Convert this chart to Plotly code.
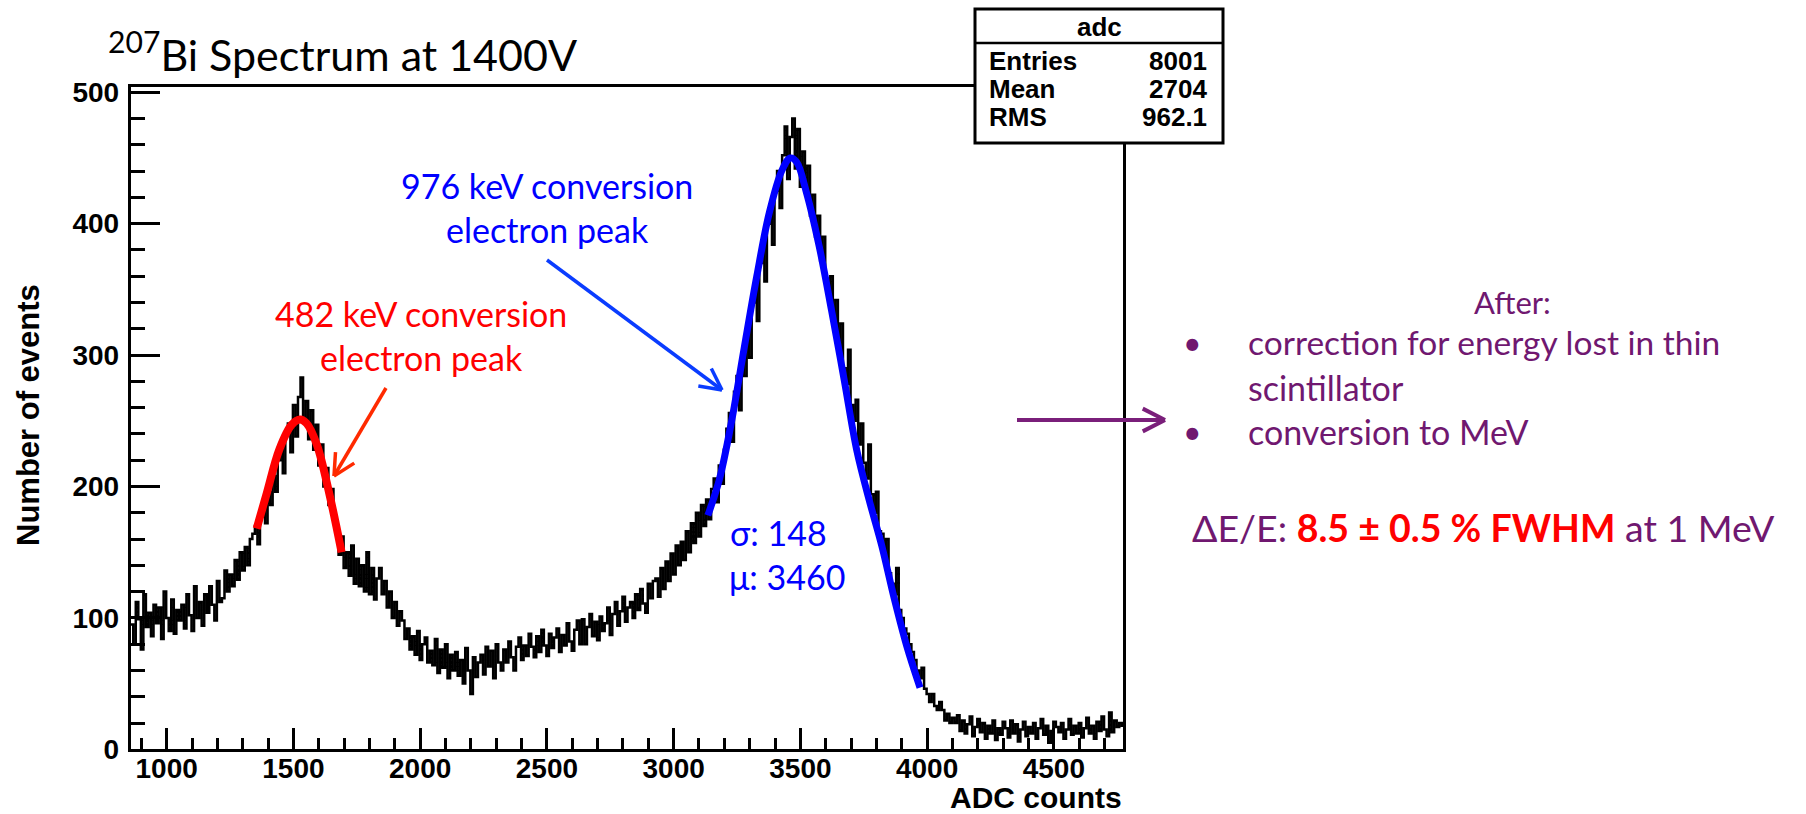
import math
import plotly.graph_objects as go

W, H = 1806, 814

# ---- histogram: ADC spectrum, 10-count bins starting at 858 ----
x_lo, x_hi = 858, 4774
bin_width = 10
counts = [
    95, 80, 112, 99, 76, 118, 93, 104, 86, 110,
    96, 108, 84, 120, 100, 90, 114, 88, 106, 98,
    110, 92, 118, 102, 90, 124, 100, 112, 94, 118,
    104, 124, 110, 98, 128, 112, 115, 136, 120,
    133, 124, 144, 129, 150, 136, 154, 140, 160, 164,
    170, 156, 178, 186, 172, 196, 186, 208, 196, 220,
    228, 210, 242, 248, 226, 262, 238, 268, 283, 250,
    265, 236, 258, 228, 247, 216, 232, 200, 214, 186,
    198, 172, 170, 148, 162, 138, 150, 132, 155, 126,
    145, 124, 140, 120, 150, 118, 138, 114, 130, 138,
    118, 128, 108, 120, 100, 112, 94, 105, 98,
    84, 92, 76, 86, 72, 90, 68, 80, 85, 66,
    75, 64, 84, 58, 76, 62, 80, 54, 72, 60,
    74, 56, 68, 50, 77, 60, 42, 70, 55, 66,
    72, 57, 78, 63, 75, 54, 80, 66, 60, 76,
    66, 82, 70, 60, 78, 85, 68, 79, 71, 88,
    78, 70, 86, 74, 91, 79, 71, 88, 77, 85,
    92, 74, 87, 79, 96, 82, 75, 91, 98, 80,
    99, 80, 93, 103, 86, 97, 83, 101, 90,
    96, 108, 87, 103, 112, 94, 105, 116, 97, 108,
    112, 100, 118, 106, 122, 111, 104, 126, 115, 128,
    130, 116, 138, 122, 143, 128, 149, 133, 155, 140,
    158, 144, 166, 150, 172, 157, 180, 162, 186, 170,
    190, 175, 198, 206, 188, 216, 202, 228, 244,
    256, 234, 272, 284, 258, 300, 284, 320, 298, 340,
    352, 326, 370, 382, 356, 400, 410, 384, 425, 440,
    412, 452, 474, 434, 466, 480, 442, 472, 428, 455,
    424, 444, 406, 422, 390, 406, 372, 390, 354, 345,
    360, 326, 342, 306, 324, 290, 278, 304, 262, 250,
    266, 232, 248, 218, 206, 232, 194, 180, 196, 166,
    164, 146, 160, 134, 126, 118, 138, 106, 100, 92,
    88, 80, 74, 68, 60, 54, 62, 46, 42, 36,
    42, 33, 30, 36, 30, 22, 27, 20, 24,
    20, 26, 14, 22, 12, 19, 25, 10, 17, 23,
    13, 20, 8, 18, 12, 22, 7, 16, 11, 21,
    16, 9, 22, 12, 19, 6, 15, 21, 10, 17,
    12, 20, 8, 16, 23, 11, 18, 5, 14, 21,
    17, 13, 20, 8, 15, 23, 11, 18, 12,
    20, 9, 16, 24, 12, 18, 8, 21, 14, 25,
    15, 10, 28, 13, 22, 17, 20, 18,
]

# ---- fitted peak curves ----
fit_482_adc = [1355, 1395, 1444, 1493, 1526, 1552, 1592, 1641, 1690]
fit_482_val = [168, 195, 228, 247, 251, 248, 232, 195, 150]

fit_976_adc = [3135, 3180, 3229, 3278, 3328, 3377, 3426, 3460, 3485, 3525,
               3574, 3623, 3673, 3722, 3771, 3821, 3870, 3919, 3972]
fit_976_val = [178, 205, 250, 305, 360, 408, 440, 450, 447, 423,
               383, 334, 281, 228, 190, 155, 115, 79, 47]

# ---- statistics box ----
stats_name = "adc"
stats_labels = ["Entries", "Mean", "RMS"]
stats_values = ["8001", "2704", "962.1"]

# ---- layout helpers (pixel -> paper) ----
def px(x):
    return x / W

def py(y):
    return 1 - y / H

PLOT_L, PLOT_R, PLOT_T, PLOT_B = 130.7, 1123.3, 87.0, 749.3

edges = [x_lo + bin_width * i for i in range(len(counts) + 1)]
step_y = counts + [counts[-1]]

fig = go.Figure()
fig.add_trace(go.Scatter(
    x=edges, y=step_y, mode="lines", line_shape="hv",
    line=dict(color="black", width=2.5), hoverinfo="skip", showlegend=False,
))
fig.add_trace(go.Scatter(
    x=fit_482_adc, y=fit_482_val, mode="lines", line_shape="spline",
    line=dict(color="#ff0000", width=8), showlegend=False,
))
fig.add_trace(go.Scatter(
    x=fit_976_adc, y=fit_976_val, mode="lines", line_shape="spline",
    line=dict(color="#0000ff", width=7), showlegend=False,
))

tick_font = dict(family="Liberation Sans, Arial, sans-serif", size=28,
                 color="black", weight="bold")

fig.update_xaxes(
    domain=[px(PLOT_L), px(PLOT_R)], range=[x_lo, x_hi], automargin=False,
    tick0=1000, dtick=500, ticks="inside", ticklen=21, tickwidth=3,
    tickcolor="black", showline=True, linewidth=3, linecolor="black",
    mirror=True, showgrid=False, zeroline=False, tickfont=tick_font,
    ticklabelstandoff=-8,
    minor=dict(tick0=1000, dtick=100, ticks="inside", ticklen=11,
               tickwidth=3, tickcolor="black", showgrid=False),
)
fig.update_yaxes(
    domain=[py(PLOT_B), py(PLOT_T)], range=[0, 504], automargin=False,
    tick0=0, dtick=100, ticks="inside", ticklen=29, tickwidth=3,
    tickcolor="black", showline=True, linewidth=3, linecolor="black",
    mirror=True, showgrid=False, zeroline=False, tickfont=tick_font,
    ticklabelstandoff=3,
    minor=dict(tick0=0, dtick=20, ticks="inside", ticklen=14,
               tickwidth=3, tickcolor="black", showgrid=False),
)

shapes = []
annotations = []

def text(x, y, s, size, color, xanchor="center", yanchor="middle",
         family="Lato, sans-serif", weight="normal", angle=0):
    annotations.append(dict(
        x=px(x), y=py(y), xref="paper", yref="paper", text=s,
        showarrow=False, xanchor=xanchor, yanchor=yanchor, textangle=angle,
        font=dict(family=family, size=size, color=color, weight=weight),
    ))

def seg(x0, y0, x1, y1, color, width):
    shapes.append(dict(type="line", xref="paper", yref="paper",
                       x0=px(x0), y0=py(y0), x1=px(x1), y1=py(y1),
                       line=dict(color=color, width=width)))

def open_arrow(x0, y0, x1, y1, color, width, head=24, spread=27):
    seg(x0, y0, x1, y1, color, width)
    ang = math.atan2(y1 - y0, x1 - x0)
    for s in (-1, 1):
        a = ang + math.pi + s * math.radians(spread)
        seg(x1, y1, x1 + head * math.cos(a), y1 + head * math.sin(a), color, width)

# title
text(106, 52, "<sup>207</sup>Bi Spectrum at 1400V", 43, "black", xanchor="left")

# axis titles
axis_font = "Liberation Sans, Arial, sans-serif"
text(1124, 797, "ADC counts", 30, "black", xanchor="right",
     family=axis_font, weight="bold")
text(28, 415, "Number of events", 31, "black", family=axis_font,
     weight="bold", angle=-90)

# peak labels
red = "#ff0000"
blue = "#0000ff"
text(421, 313, "482 keV conversion", 34, red)
text(421, 357, "electron peak", 34, red)
text(547, 186, "976 keV conversion", 34, blue)
text(547, 229, "electron peak", 34, blue)
text(778, 532, "σ: 148", 34, blue)
text(787, 576, "μ: 3460", 34, blue)
open_arrow(386, 388, 334, 476, "#ff2a00", 3.5)
open_arrow(547, 260, 722, 390, "#0a3cff", 3.5)

# statistics box
BX0, BX1, BY0, BY1 = 975, 1223, 9, 143
shapes.append(dict(type="rect", xref="paper", yref="paper",
                   x0=px(BX0), x1=px(BX1), y0=py(BY1), y1=py(BY0),
                   fillcolor="white", line=dict(color="black", width=3),
                   layer="above"))
seg(BX0, 43, BX1, 43, "black", 2.5)
stat_font = "Liberation Sans, Arial, sans-serif"
text((BX0 + BX1) / 2, 27, stats_name, 26, "black", family=stat_font, weight="bold")
for i, (lab, val) in enumerate(zip(stats_labels, stats_values)):
    yy = 61 + 28 * i
    text(987, yy, lab, 26, "black", xanchor="left", family=stat_font, weight="bold")
    text(1209, yy, val, 26, "black", xanchor="right", family=stat_font, weight="bold")

# notes on the right
purple = "#701870"
text(1512, 302, "After:", 31, purple)
text(1192, 342, "•", 32, purple)
text(1246, 342, "correction for energy lost in thin", 33.5, purple, xanchor="left")
text(1246, 387, "scintillator", 34, purple, xanchor="left")
text(1192, 432, "•", 32, purple)
text(1246, 432, "conversion to MeV", 34, purple, xanchor="left")
text(1190, 527,
     "ΔE/E: <span style='color:#ff0000'><b>8.5 ± 0.5 % FWHM</b></span> at 1 MeV",
     37.5, purple, xanchor="left")
open_arrow(1017, 420, 1165, 420, "#7a1f7a", 4, head=25, spread=27)

fig.update_layout(
    width=W, height=H,
    margin=dict(l=0, r=0, t=0, b=0, pad=0, autoexpand=False),
    paper_bgcolor="white", plot_bgcolor="white",
    shapes=shapes, annotations=annotations, showlegend=False,
)

fig.write_html("out.html")
